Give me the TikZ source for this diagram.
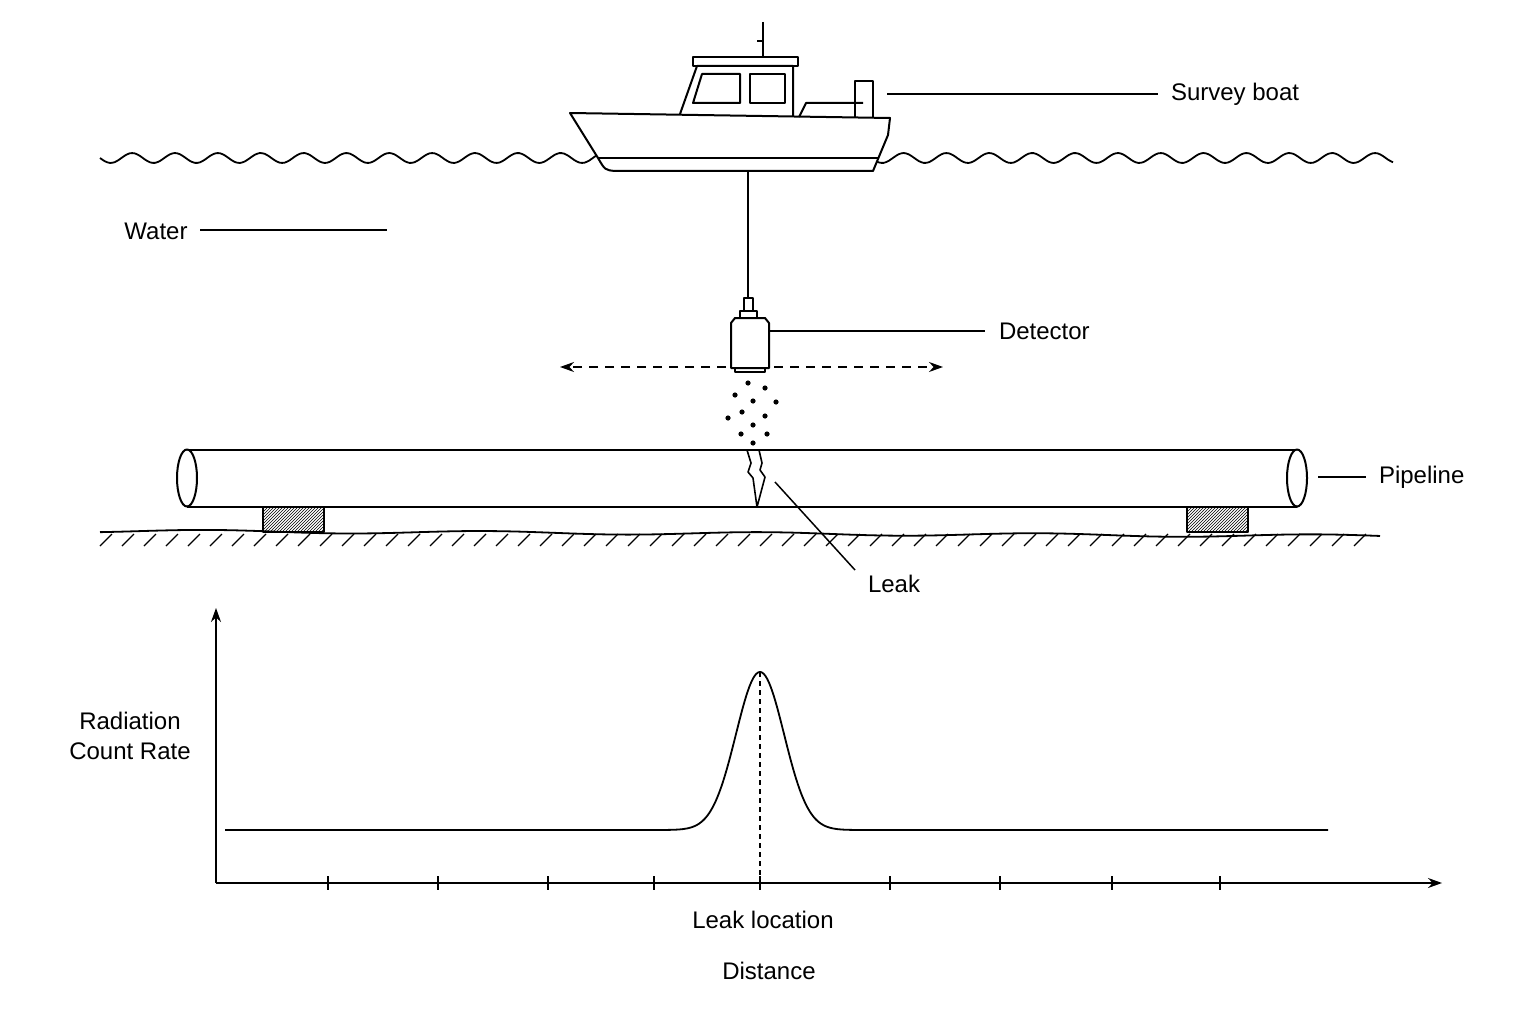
\documentclass[tikz,border=0pt]{standalone}
\usepackage{fontspec}
\setmainfont{Liberation Sans}
\usetikzlibrary{arrows.meta, patterns, calc}
\begin{document}
\begin{tikzpicture}[x=1pt, y=-1pt, line width=2pt, line join=round,
	lbl/.style={font=\fontsize{24}{30}\selectfont, inner sep=0pt},
	lead/.style={line width=1.5pt},
	arr/.style={-{Stealth[length=14pt, width=10pt]}}]
	\useasboundingbox (0,0) rectangle (1536,1024);
	% water surface
	\draw [line width=1.8pt] plot [domain=100:1393, samples=260, smooth] (\x, {158+5*sin(8.4*(\x-100))});
	% boat
	\draw [fill=white] (570,113) -- (890,118) -- (888,135) -- (873,171) -- (615,171) .. controls (605,170) .. (598,158) -- cycle;
	\draw (598,158) -- (878,158);
	\draw (680,114) -- (697,66) -- (793,66) -- (793,117);
	\draw (693,57) rectangle (798,66);
	\draw (702,74) -- (740,74) -- (740,103) -- (693,103) -- cycle;
	\draw (750,74) rectangle (785,103);
	\draw (763,22) -- (763,56);
	\draw (757,41) -- (763,41);
	\draw (799,117) -- (806,103) -- (863,103);
	\draw (855,117) -- (855,81) -- (873,81) -- (873,117);
	\coordinate (boatR) at (887,94);
	\node [lbl, anchor=west] (boat) at (1170,94) {Survey boat};
	\draw [lead] (boatR) -- (1158,94);
	% water label
	\node [lbl] (water) at (156,231) {Water};
	\draw [lead] (200,230) -- (387,230);
	% tether and detector
	\draw [line width=1.5pt] (748,172) -- (748,298);
	\draw (744,298) rectangle (753,311);
	\draw (740,311) rectangle (757,318);
	\draw (735,318) -- (731,323) -- (731,368) -- (769,368) -- (769,323) -- (765,318) -- cycle;
	\draw (735,368) rectangle (765,372);
	\node [lbl, anchor=west] (det) at (998,331) {Detector};
	\draw [lead] (770,331) -- (985,331);
	\coordinate (sweepL) at (560,367);
	\coordinate (sweepR) at (943,367);
	\draw [lead, dashed, dash pattern=on 9pt off 7pt, arr] (726,367) -- (sweepL);
	\draw [lead, dashed, dash pattern=on 9pt off 7pt, arr] (774,367) -- (sweepR);
	\foreach \px/\py in {748/383, 765/388, 735/395, 753/401, 776/402, 742/412, 765/416, 728/418, 753/425, 741/434, 767/434, 753/443}
		\fill (\px,\py) circle (2.6pt);
	% seabed
	\draw [line width=1.8pt] plot [domain=100:1380, samples=120, smooth] (\x, {531+1.5*sin(1.3*\x)+0.004*(\x-100)});
	\foreach \hx in {110,132,...,1370}
		\draw [line width=1.2pt] (\hx+2,534) -- (\hx-10,546);
	% supports
	\draw [pattern=north east lines, line width=1.5pt] (263,507) rectangle (324,532);
	\draw [pattern=north east lines, line width=1.5pt] (1187,507) rectangle (1248,532);
	% pipeline
	\draw [fill=white] (187,450) -- (1297,450) -- (1297,507) -- (187,507);
	\draw [fill=white] (187,478) ellipse (10pt and 28.5pt);
	\draw [fill=white] (1297,478) ellipse (10pt and 28.5pt);
	\fill [white] (749,452) -- (751,463) -- (748,472) -- (753,478) -- (757,505) -- (765,477) -- (760,470) -- (762,463) -- (758,452) -- cycle;
	\draw [line width=1.6pt] (747,450) -- (751,463) -- (748,472) -- (753,478) -- (757,507) -- (765,477) -- (760,470) -- (762,463) -- (759,450);
	\node [lbl, anchor=west] (pipe) at (1378,477) {Pipeline};
	\draw [lead] (1318,477) -- (1366,477);
	\node [lbl, anchor=west] (leak) at (867,584) {Leak};
	\draw [lead] (775,482) -- (855,570);
	% graph
	\coordinate (O) at (216,883);
	\draw [lead, arr] (O) -- (216,608);
	\draw [lead, arr] (O) -- (1442,883);
	\foreach \tx in {328,438,548,654,760,890,1000,1112,1220}
		\draw [lead] (\tx,876) -- (\tx,890);
	\draw [line width=1.8pt] (225,830) -- (640,830)
		plot [domain=640:880, samples=150] (\x, {830-158*exp(-((\x-760)/34)^2)}) -- (1328,830);
	\draw [lead, dashed, dash pattern=on 5pt off 4pt] (760,672) -- (760,890);
	\node [lbl, align=center] (ylab) at (130,736) {Radiation\\Count Rate};
	\node [lbl] (xloc) at (763,920) {Leak location};
	\node [lbl] (xlab) at (769,971) {Distance};
\end{tikzpicture}
\end{document}
